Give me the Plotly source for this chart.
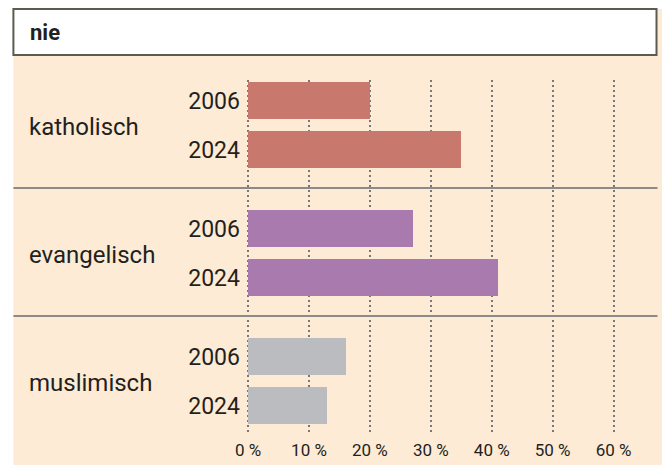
import plotly.graph_objects as go

# placement of the figure inside the photographed page (measured from renders):
# screen_x = SX * (fig_x + XOFF), screen_y = fig_y + YOFF
SX, XOFF, YOFF = 0.973, 15, 8
W, H = 670, 465 - YOFF

religions = ["katholisch", "evangelisch", "muslimisch"]
years = ["2006", "2024"]
nie_2006 = [20, 27, 16]
nie_2024 = [35, 41, 13]
x_ticks = [0, 10, 20, 30, 40, 50, 60]
x_ticktext = ["0 %", "10 %", "20 %", "30 %", "40 %", "50 %", "60 %"]
colors = ["#c8786d", "#a97aae", "#bbbcc0"]

PEACH = "#fdebd5"
TEXT = "#231f20"
FONT = "Roboto"

# vertical layout (reference pixel units, y grows downward)
FIRST, ROW_STEP, GROUP_STEP, BAR_W = 100.5, 49, 128, 37
Y_TOP, Y_BOT = 80, 432
PX_PER_PCT = 6.1
X0_PX = 248


def px(x):
    return (x / SX - XOFF) / W


def py(y):
    return 1 - (y - YOFF) / H


fig = go.Figure()

ys, xs, cs, tv, tt = [], [], [], [], []
for g, rel in enumerate(religions):
    for k, vals in enumerate([nie_2006, nie_2024]):
        y = FIRST + g * GROUP_STEP + k * ROW_STEP
        ys.append(y)
        xs.append(vals[g])
        cs.append(colors[g])
        tv.append(y)
        tt.append(years[k])

fig.add_trace(go.Bar(
    x=xs, y=ys, orientation="h", width=BAR_W,
    marker=dict(color=cs, line=dict(width=0)),
    hoverinfo="skip", showlegend=False,
))

shapes = [
    # peach panel
    dict(type="rect", xref="paper", yref="paper", layer="below",
         x0=px(13), x1=1, y0=0, y1=py(9),
         fillcolor=PEACH, line=dict(width=0)),
    # header box
    dict(type="rect", xref="paper", yref="paper", layer="above",
         x0=px(13), x1=px(657), y0=py(55), y1=py(9),
         fillcolor="white", line=dict(color="#5b5b50", width=2)),
]
for g in range(len(religions) - 1):
    ysep = FIRST + g * GROUP_STEP + ROW_STEP + (GROUP_STEP - ROW_STEP) / 2 - 1
    shapes.append(dict(type="line", xref="paper", yref="y", layer="above",
                       x0=px(13), x1=px(658), y0=ysep, y1=ysep,
                       line=dict(color="#8a8a88", width=2)))

annotations = [
    dict(text="<b>nie</b>", xref="paper", yref="paper",
         x=px(28), y=py(33), xanchor="left", yanchor="middle",
         showarrow=False, font=dict(size=22, color=TEXT, family=FONT)),
]
for g, rel in enumerate(religions):
    yc = FIRST + g * GROUP_STEP + ROW_STEP / 2 + 2
    annotations.append(dict(text=rel, xref="paper", yref="y",
                            x=px(27), y=yc, xanchor="left", yanchor="middle",
                            showarrow=False,
                            font=dict(size=24, color=TEXT, family=FONT)))

xr = [-1, 61]
fig.update_layout(
    width=W, height=H,
    margin=dict(l=0, r=0, t=0, b=0),
    paper_bgcolor="white", plot_bgcolor="rgba(0,0,0,0)",
    font=dict(family=FONT, color=TEXT),
    bargap=0,
    xaxis=dict(
        range=xr,
        domain=[px(X0_PX + xr[0] * PX_PER_PCT), px(X0_PX + xr[1] * PX_PER_PCT)],
        tickvals=x_ticks, ticktext=x_ticktext,
        tickfont=dict(size=17, color=TEXT, family=FONT),
        showgrid=True, gridcolor="#77777a", gridwidth=2, griddash="2px,3px",
        zeroline=False, showline=False, ticks="", ticklabelstandoff=6,
        fixedrange=True,
    ),
    yaxis=dict(
        range=[Y_BOT, Y_TOP],
        domain=[py(Y_BOT), py(Y_TOP)],
        tickvals=tv, ticktext=tt,
        tickfont=dict(size=23, color=TEXT, family=FONT),
        showgrid=False, zeroline=False, showline=False, ticks="",
        ticklabelstandoff=1, fixedrange=True,
    ),
    shapes=shapes,
    annotations=annotations,
)

fig.write_html("out.html")
